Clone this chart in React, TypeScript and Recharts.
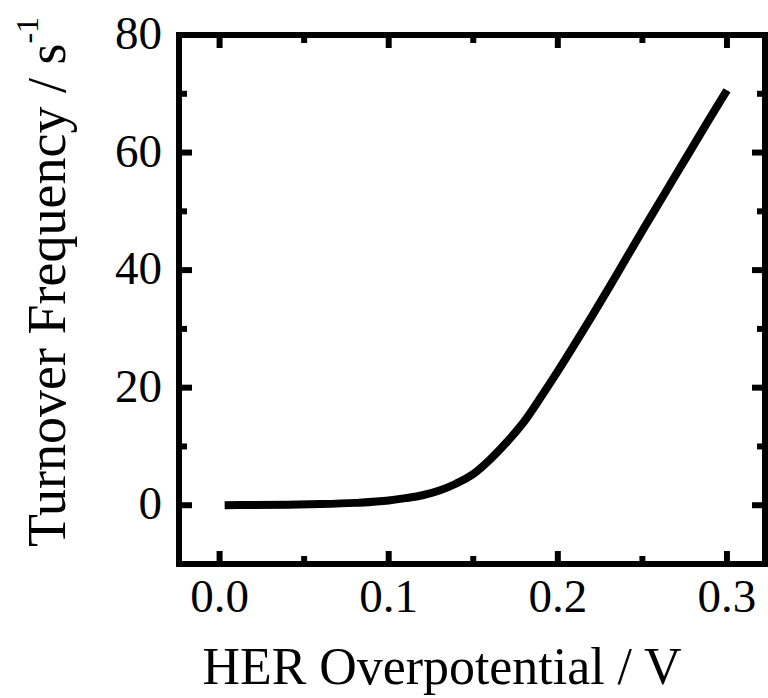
import { LineChart, XAxis, YAxis, Line } from 'recharts';

// HER overpotential (V) and turnover frequency (s^-1)
const overpotential = [0.003, 0.02, 0.04, 0.06, 0.08, 0.1, 0.11, 0.12, 0.13, 0.14, 0.15, 0.16, 0.17, 0.18, 0.19, 0.2, 0.21, 0.22, 0.23, 0.24, 0.25, 0.26, 0.27, 0.28, 0.29, 0.3];
const turnover = [0, 0.05, 0.1, 0.2, 0.4, 0.8, 1.2, 1.7, 2.5, 3.7, 5.3, 7.8, 10.8, 14.2, 18.4, 22.8, 27.4, 32.1, 36.9, 41.8, 46.7, 51.5, 56.3, 61.1, 65.9, 70.6];

const xTicks = [0, 0.05, 0.1, 0.15, 0.2, 0.25, 0.3];
const yTicks = [0, 10, 20, 30, 40, 50, 60, 70, 80];

const data = overpotential.map((x, i) => ({ x, tof: turnover[i] }));

const FONT = '"Liberation Serif", "Times New Roman", serif';
const frame = { stroke: '#000', strokeWidth: 6, strokeLinecap: 'square' as const };

const isMajorX = (v: number) => Math.abs(v * 10 - Math.round(v * 10)) < 1e-6;
const isMajorY = (v: number) => v % 20 === 0;
const tickLen = (major: boolean) => (major ? 13 : 8);

const BottomTick = (props: any) => {
  const { x, y, payload } = props;
  const major = isMajorX(payload.value);
  return (
    <g>
      <line x1={x} x2={x} y1={y} y2={y - tickLen(major)} stroke="#000" strokeWidth={6} />
      {major && (
        <text x={x} y={y + 48} textAnchor="middle" fontFamily={FONT} fontSize={47} fill="#000">
          {payload.value.toFixed(1)}
        </text>
      )}
    </g>
  );
};

const TopTick = (props: any) => {
  const { x, y, payload } = props;
  const major = isMajorX(payload.value);
  return <line x1={x} x2={x} y1={y} y2={y + tickLen(major)} stroke="#000" strokeWidth={6} />;
};

const LeftTick = (props: any) => {
  const { x, y, payload } = props;
  const major = isMajorY(payload.value);
  return (
    <g>
      <line x1={x} x2={x + tickLen(major)} y1={y} y2={y} stroke="#000" strokeWidth={6} />
      {major && (
        <text x={x - 17} y={y + 14} textAnchor="end" fontFamily={FONT} fontSize={47} fill="#000">
          {payload.value}
        </text>
      )}
    </g>
  );
};

const RightTick = (props: any) => {
  const { x, y, payload } = props;
  const major = isMajorY(payload.value);
  return <line x1={x} x2={x - tickLen(major)} y1={y} y2={y} stroke="#000" strokeWidth={6} />;
};

const XTitle = () => (
  <text x={442} y={684} textAnchor="middle" fontFamily={FONT} fontSize={53} fill="#000"
    textLength={479} lengthAdjust="spacingAndGlyphs">
    HER Overpotential / V
  </text>
);

const YTitle = () => (
  <text transform="translate(65,547) rotate(-90)" fontFamily={FONT} fontSize={54} fill="#000">
    <tspan>Turnover Frequency / s</tspan>
    <tspan dy={-27} fontSize={32}>-1</tspan>
  </text>
);

export default function App() {
  return (
    <div style={{ position: 'absolute', left: 0, top: 0, background: '#fff' }}>
      <LineChart width={768} height={698} data={data} margin={{ top: 34, right: 2, left: 0, bottom: 0 }}>
        <XAxis
          xAxisId="b"
          dataKey="x"
          type="number"
          domain={[-0.024, 0.3225]}
          allowDataOverflow
          ticks={xTicks}
          interval={0}
          height={134}
          tickSize={0}
          tickMargin={0}
          axisLine={frame}
          tickLine={false}
          tick={<BottomTick />}
          label={<XTitle />}
        />
        <XAxis
          xAxisId="t"
          orientation="top"
          dataKey="x"
          type="number"
          domain={[-0.024, 0.3225]}
          allowDataOverflow
          ticks={xTicks}
          interval={0}
          height={1}
          tickSize={0}
          tickMargin={0}
          axisLine={frame}
          tickLine={false}
          tick={<TopTick />}
        />
        <YAxis
          yAxisId="l"
          type="number"
          domain={[-10, 80]}
          allowDataOverflow
          ticks={yTicks}
          interval={0}
          width={179}
          tickSize={0}
          tickMargin={0}
          axisLine={frame}
          tickLine={false}
          tick={<LeftTick />}
          label={<YTitle />}
        />
        <YAxis
          yAxisId="r"
          orientation="right"
          type="number"
          domain={[-10, 80]}
          allowDataOverflow
          ticks={yTicks}
          interval={0}
          width={1}
          tickSize={0}
          tickMargin={0}
          axisLine={frame}
          tickLine={false}
          tick={<RightTick />}
        />
        {/* invisible twin so the mirrored top/right frame axes get drawn */}
        <Line
          xAxisId="t"
          yAxisId="r"
          dataKey="tof"
          stroke="none"
          dot={false}
          activeDot={false}
          legendType="none"
          isAnimationActive={false}
        />
        <Line
          xAxisId="b"
          yAxisId="l"
          type="monotone"
          dataKey="tof"
          stroke="#000"
          strokeWidth={8}
          dot={false}
          activeDot={false}
          isAnimationActive={false}
        />
      </LineChart>
    </div>
  );
}
